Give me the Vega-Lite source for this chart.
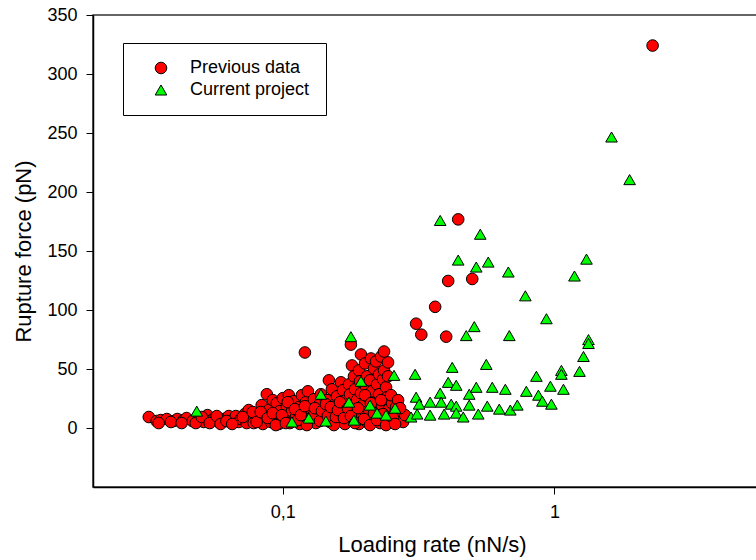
{
  "$schema": "https://vega.github.io/schema/vega-lite/v6.json",
  "width": 733,
  "height": 472,
  "autosize": {"type": "none"},
  "padding": {"left": 93, "top": 15, "right": 0, "bottom": 73},
  "background": "white",
  "config": {
    "view": {"stroke": "#333333", "strokeWidth": 1.5},
    "font": "Liberation Sans",
    "axis": {"grid": false, "domainColor": "black", "domainWidth": 1.5, "tickColor": "black", "tickSize": 7, "tickWidth": 1, "labelColor": "black", "titleColor": "black", "labelFont": "Liberation Sans", "titleFont": "Liberation Sans", "labelFontSize": 18, "titleFontSize": 22, "titleFontWeight": "normal"},
    "legend": {"symbolStrokeColor": "black", "symbolStrokeWidth": 1}
  },
  "data": {"values": [
    {"rate":0.0321,"force":9.3,"series":"Previous data"},{"rate":0.0343,"force":5.9,"series":"Previous data"},{"rate":0.0355,"force":6.7,"series":"Previous data"},{"rate":0.0374,"force":7.6,"series":"Previous data"},{"rate":0.0396,"force":5.9,"series":"Previous data"},{"rate":0.0409,"force":7.6,"series":"Previous data"},{"rate":0.0431,"force":6.7,"series":"Previous data"},{"rate":0.0442,"force":8.4,"series":"Previous data"},{"rate":0.0465,"force":5.9,"series":"Previous data"},{"rate":0.049,"force":7.6,"series":"Previous data"},{"rate":0.0511,"force":5.1,"series":"Previous data"},{"rate":0.0528,"force":10.9,"series":"Previous data"},{"rate":0.0547,"force":6.7,"series":"Previous data"},{"rate":0.056,"force":8.4,"series":"Previous data"},{"rate":0.0581,"force":5.1,"series":"Previous data"},{"rate":0.0606,"force":7.6,"series":"Previous data"},{"rate":0.0632,"force":10.1,"series":"Previous data"},{"rate":0.0643,"force":5.9,"series":"Previous data"},{"rate":0.0671,"force":10.1,"series":"Previous data"},{"rate":0.0688,"force":5.1,"series":"Previous data"},{"rate":0.07,"force":7.6,"series":"Previous data"},{"rate":0.0724,"force":11.8,"series":"Previous data"},{"rate":0.0736,"force":4.2,"series":"Previous data"},{"rate":0.0749,"force":15.2,"series":"Previous data"},{"rate":0.0762,"force":8.4,"series":"Previous data"},{"rate":0.0781,"force":4.2,"series":"Previous data"},{"rate":0.0794,"force":11.8,"series":"Previous data"},{"rate":0.0815,"force":6.7,"series":"Previous data"},{"rate":0.0836,"force":19.4,"series":"Previous data"},{"rate":0.0844,"force":3.4,"series":"Previous data"},{"rate":0.0858,"force":10.1,"series":"Previous data"},{"rate":0.0873,"force":28.6,"series":"Previous data"},{"rate":0.0888,"force":15.2,"series":"Previous data"},{"rate":0.0903,"force":5.1,"series":"Previous data"},{"rate":0.0918,"force":23.6,"series":"Previous data"},{"rate":0.0934,"force":9.3,"series":"Previous data"},{"rate":0.095,"force":21.0,"series":"Previous data"},{"rate":0.0966,"force":3.4,"series":"Previous data"},{"rate":0.0974,"force":14.3,"series":"Previous data"},{"rate":0.1,"force":25.3,"series":"Previous data"},{"rate":0.1008,"force":7.6,"series":"Previous data"},{"rate":0.1035,"force":18.5,"series":"Previous data"},{"rate":0.1052,"force":27.8,"series":"Previous data"},{"rate":0.1061,"force":4.2,"series":"Previous data"},{"rate":0.108,"force":14.3,"series":"Previous data"},{"rate":0.1098,"force":22.7,"series":"Previous data"},{"rate":0.1117,"force":9.3,"series":"Previous data"},{"rate":0.1146,"force":17.7,"series":"Previous data"},{"rate":0.1155,"force":3.4,"series":"Previous data"},{"rate":0.1175,"force":27.8,"series":"Previous data"},{"rate":0.1195,"force":13.5,"series":"Previous data"},{"rate":0.1216,"force":21.9,"series":"Previous data"},{"rate":0.1237,"force":31.1,"series":"Previous data"},{"rate":0.1247,"force":7.6,"series":"Previous data"},{"rate":0.1268,"force":16.0,"series":"Previous data"},{"rate":0.1301,"force":24.4,"series":"Previous data"},{"rate":0.1323,"force":4.2,"series":"Previous data"},{"rate":0.1335,"force":11.8,"series":"Previous data"},{"rate":0.1358,"force":19.4,"series":"Previous data"},{"rate":0.1381,"force":28.6,"series":"Previous data"},{"rate":0.1405,"force":8.4,"series":"Previous data"},{"rate":0.1429,"force":15.2,"series":"Previous data"},{"rate":0.1453,"force":23.6,"series":"Previous data"},{"rate":0.1478,"force":40.4,"series":"Previous data"},{"rate":0.149,"force":5.1,"series":"Previous data"},{"rate":0.1516,"force":32.8,"series":"Previous data"},{"rate":0.1529,"force":12.6,"series":"Previous data"},{"rate":0.1556,"force":20.2,"series":"Previous data"},{"rate":0.1583,"force":26.9,"series":"Previous data"},{"rate":0.1609,"force":8.4,"series":"Previous data"},{"rate":0.1637,"force":38.7,"series":"Previous data"},{"rate":0.1651,"force":16.8,"series":"Previous data"},{"rate":0.1665,"force":32.0,"series":"Previous data"},{"rate":0.1693,"force":3.4,"series":"Previous data"},{"rate":0.1708,"force":23.6,"series":"Previous data"},{"rate":0.1722,"force":11.8,"series":"Previous data"},{"rate":0.1752,"force":37.0,"series":"Previous data"},{"rate":0.1767,"force":28.6,"series":"Previous data"},{"rate":0.1781,"force":70.7,"series":"Previous data"},{"rate":0.1797,"force":53.0,"series":"Previous data"},{"rate":0.1797,"force":18.5,"series":"Previous data"},{"rate":0.1812,"force":7.6,"series":"Previous data"},{"rate":0.1828,"force":43.8,"series":"Previous data"},{"rate":0.1844,"force":32.8,"series":"Previous data"},{"rate":0.1859,"force":14.3,"series":"Previous data"},{"rate":0.1875,"force":23.6,"series":"Previous data"},{"rate":0.1907,"force":48.8,"series":"Previous data"},{"rate":0.1907,"force":3.4,"series":"Previous data"},{"rate":0.1924,"force":39.6,"series":"Previous data"},{"rate":0.194,"force":62.3,"series":"Previous data"},{"rate":0.194,"force":29.5,"series":"Previous data"},{"rate":0.1957,"force":10.1,"series":"Previous data"},{"rate":0.1973,"force":19.4,"series":"Previous data"},{"rate":0.2007,"force":54.7,"series":"Previous data"},{"rate":0.2024,"force":35.4,"series":"Previous data"},{"rate":0.2041,"force":43.8,"series":"Previous data"},{"rate":0.2041,"force":5.1,"series":"Previous data"},{"rate":0.2059,"force":26.1,"series":"Previous data"},{"rate":0.2076,"force":15.2,"series":"Previous data"},{"rate":0.2094,"force":40.4,"series":"Previous data"},{"rate":0.2112,"force":58.9,"series":"Previous data"},{"rate":0.213,"force":31.1,"series":"Previous data"},{"rate":0.2148,"force":9.3,"series":"Previous data"},{"rate":0.2166,"force":50.5,"series":"Previous data"},{"rate":0.2185,"force":21.9,"series":"Previous data"},{"rate":0.2204,"force":56.4,"series":"Previous data"},{"rate":0.2223,"force":37.0,"series":"Previous data"},{"rate":0.2242,"force":14.3,"series":"Previous data"},{"rate":0.2261,"force":45.5,"series":"Previous data"},{"rate":0.2261,"force":28.6,"series":"Previous data"},{"rate":0.228,"force":4.2,"series":"Previous data"},{"rate":0.23,"force":60.6,"series":"Previous data"},{"rate":0.2319,"force":18.5,"series":"Previous data"},{"rate":0.2339,"force":41.3,"series":"Previous data"},{"rate":0.2359,"force":64.8,"series":"Previous data"},{"rate":0.2359,"force":48.8,"series":"Previous data"},{"rate":0.2379,"force":10.1,"series":"Previous data"},{"rate":0.2399,"force":34.5,"series":"Previous data"},{"rate":0.242,"force":26.1,"series":"Previous data"},{"rate":0.244,"force":55.6,"series":"Previous data"},{"rate":0.2461,"force":16.0,"series":"Previous data"},{"rate":0.2482,"force":5.9,"series":"Previous data"},{"rate":0.2525,"force":21.0,"series":"Previous data"},{"rate":0.2568,"force":11.8,"series":"Previous data"},{"rate":0.2613,"force":17.7,"series":"Previous data"},{"rate":0.2635,"force":7.6,"series":"Previous data"},{"rate":0.2679,"force":13.5,"series":"Previous data"},{"rate":0.2725,"force":9.3,"series":"Previous data"},{"rate":0.2772,"force":5.1,"series":"Previous data"},{"rate":0.282,"force":10.9,"series":"Previous data"},
    {"rate":0.0349,"force":4.2,"series":"Previous data"},{"rate":0.0387,"force":5.1,"series":"Previous data"},{"rate":0.0424,"force":4.2,"series":"Previous data"},{"rate":0.0478,"force":4.2,"series":"Previous data"},{"rate":0.0503,"force":9.3,"series":"Previous data"},{"rate":0.0538,"force":4.2,"series":"Previous data"},{"rate":0.0571,"force":10.1,"series":"Previous data"},{"rate":0.059,"force":3.4,"series":"Previous data"},{"rate":0.062,"force":5.9,"series":"Previous data"},{"rate":0.0651,"force":3.4,"series":"Previous data"},{"rate":0.0712,"force":9.3,"series":"Previous data"},{"rate":0.0775,"force":13.5,"series":"Previous data"},{"rate":0.0801,"force":5.1,"series":"Previous data"},{"rate":0.0829,"force":13.5,"series":"Previous data"},{"rate":0.088,"force":8.4,"series":"Previous data"},{"rate":0.0918,"force":12.6,"series":"Previous data"},{"rate":0.0942,"force":2.5,"series":"Previous data"},{"rate":0.0992,"force":10.9,"series":"Previous data"},{"rate":0.1026,"force":4.2,"series":"Previous data"},{"rate":0.1043,"force":21.9,"series":"Previous data"},{"rate":0.1108,"force":16.0,"series":"Previous data"},{"rate":0.1136,"force":6.7,"series":"Previous data"},{"rate":0.1165,"force":10.9,"series":"Previous data"},{"rate":0.1206,"force":18.5,"series":"Previous data"},{"rate":0.1226,"force":2.5,"series":"Previous data"},{"rate":0.1279,"force":9.3,"series":"Previous data"},{"rate":0.1312,"force":16.8,"series":"Previous data"},{"rate":0.137,"force":5.9,"series":"Previous data"},{"rate":0.1393,"force":14.3,"series":"Previous data"},{"rate":0.1441,"force":20.2,"series":"Previous data"},{"rate":0.1465,"force":10.1,"series":"Previous data"},{"rate":0.1503,"force":17.7,"series":"Previous data"},{"rate":0.1542,"force":2.5,"series":"Previous data"},{"rate":0.1569,"force":9.3,"series":"Previous data"},{"rate":0.1596,"force":15.2,"series":"Previous data"},{"rate":0.1623,"force":21.9,"series":"Previous data"},{"rate":0.1679,"force":8.4,"series":"Previous data"},{"rate":0.1737,"force":16.8,"series":"Previous data"},{"rate":0.1781,"force":10.1,"series":"Previous data"},{"rate":0.1844,"force":4.2,"series":"Previous data"},{"rate":0.1891,"force":16.8,"series":"Previous data"},{"rate":0.199,"force":7.6,"series":"Previous data"},{"rate":0.2007,"force":27.8,"series":"Previous data"},{"rate":0.2094,"force":2.5,"series":"Previous data"},{"rate":0.2112,"force":21.0,"series":"Previous data"},{"rate":0.2166,"force":12.6,"series":"Previous data"},{"rate":0.2223,"force":6.7,"series":"Previous data"},{"rate":0.23,"force":23.6,"series":"Previous data"},{"rate":0.2339,"force":11.8,"series":"Previous data"},{"rate":0.2399,"force":2.5,"series":"Previous data"},{"rate":0.244,"force":43.8,"series":"Previous data"},{"rate":0.2503,"force":27.8,"series":"Previous data"},{"rate":0.2546,"force":8.4,"series":"Previous data"},{"rate":0.259,"force":3.4,"series":"Previous data"},{"rate":0.2657,"force":23.6,"series":"Previous data"},{"rate":0.2702,"force":16.8,"series":"Previous data"},
    {"rate":2.299,"force":324.1,"series":"Previous data"},{"rate":0.4423,"force":176.8,"series":"Previous data"},{"rate":0.4063,"force":124.6,"series":"Previous data"},{"rate":0.4983,"force":126.3,"series":"Previous data"},{"rate":0.3638,"force":102.7,"series":"Previous data"},{"rate":0.3096,"force":88.4,"series":"Previous data"},{"rate":0.3235,"force":79.1,"series":"Previous data"},{"rate":0.3995,"force":77.4,"series":"Previous data"},{"rate":0.1206,"force":64.0,"series":"Previous data"},
    {"rate":0.0482,"force":14.3,"series":"Current project"},{"rate":0.108,"force":5.1,"series":"Current project"},{"rate":0.1247,"force":8.4,"series":"Current project"},{"rate":0.1441,"force":5.9,"series":"Current project"},{"rate":0.1381,"force":28.6,"series":"Current project"},{"rate":0.1752,"force":21.9,"series":"Current project"},{"rate":0.1828,"force":6.7,"series":"Current project"},{"rate":0.194,"force":39.6,"series":"Current project"},{"rate":0.2094,"force":19.4,"series":"Current project"},{"rate":0.2223,"force":12.6,"series":"Current project"},{"rate":0.2399,"force":10.9,"series":"Current project"},{"rate":0.259,"force":16.8,"series":"Current project"},{"rate":0.2567,"force":44.6,"series":"Current project"},{"rate":0.1781,"force":77.4,"series":"Current project"},{"rate":0.2967,"force":9.3,"series":"Current project"},{"rate":0.3069,"force":45.5,"series":"Current project"},{"rate":0.3096,"force":26.1,"series":"Current project"},{"rate":0.3176,"force":20.2,"series":"Current project"},{"rate":0.3122,"force":11.8,"series":"Current project"},{"rate":0.3486,"force":21.9,"series":"Current project"},{"rate":0.3486,"force":10.9,"series":"Current project"},{"rate":0.3797,"force":29.5,"series":"Current project"},{"rate":0.3828,"force":21.9,"series":"Current project"},{"rate":0.3927,"force":11.8,"series":"Current project"},{"rate":0.4063,"force":38.7,"series":"Current project"},{"rate":0.4168,"force":20.2,"series":"Current project"},{"rate":0.435,"force":36.2,"series":"Current project"},{"rate":0.435,"force":18.5,"series":"Current project"},{"rate":0.435,"force":12.6,"series":"Current project"},{"rate":0.4616,"force":9.3,"series":"Current project"},{"rate":0.4857,"force":28.6,"series":"Current project"},{"rate":0.4857,"force":19.4,"series":"Current project"},{"rate":0.5243,"force":11.8,"series":"Current project"},{"rate":0.5155,"force":34.5,"series":"Current project"},{"rate":0.5659,"force":18.5,"series":"Current project"},{"rate":0.5904,"force":34.5,"series":"Current project"},{"rate":0.6266,"force":16.0,"series":"Current project"},{"rate":0.6596,"force":32.8,"series":"Current project"},{"rate":0.6881,"force":15.2,"series":"Current project"},{"rate":0.7302,"force":19.4,"series":"Current project"},{"rate":0.4204,"force":51.4,"series":"Current project"},{"rate":0.5612,"force":53.9,"series":"Current project"},{"rate":0.4735,"force":78.3,"series":"Current project"},{"rate":0.5069,"force":85.9,"series":"Current project"},{"rate":0.6823,"force":78.3,"series":"Current project"},{"rate":0.3797,"force":175.9,"series":"Current project"},{"rate":0.5333,"force":164.2,"series":"Current project"},{"rate":0.4423,"force":142.3,"series":"Current project"},{"rate":0.5155,"force":136.4,"series":"Current project"},{"rate":0.5707,"force":140.6,"series":"Current project"},{"rate":0.6766,"force":132.2,"series":"Current project"},{"rate":0.7816,"force":112.0,"series":"Current project"},{"rate":0.9344,"force":92.6,"series":"Current project"},{"rate":1.3126,"force":143.1,"series":"Current project"},{"rate":1.1853,"force":128.8,"series":"Current project"},{"rate":1.623,"force":246.6,"series":"Current project"},{"rate":1.892,"force":210.5,"series":"Current project"},{"rate":1.335,"force":74.9,"series":"Current project"},{"rate":1.335,"force":71.6,"series":"Current project"},{"rate":1.2794,"force":60.6,"series":"Current project"},{"rate":1.237,"force":48.0,"series":"Current project"},{"rate":1.061,"force":48.8,"series":"Current project"},{"rate":1.061,"force":45.5,"series":"Current project"},{"rate":0.8582,"force":43.8,"series":"Current project"},{"rate":0.9665,"force":35.4,"series":"Current project"},{"rate":1.0795,"force":32.8,"series":"Current project"},{"rate":0.7883,"force":31.1,"series":"Current project"},{"rate":0.873,"force":27.8,"series":"Current project"},{"rate":0.9031,"force":22.7,"series":"Current project"},{"rate":0.9748,"force":20.2,"series":"Current project"}
  ]},
  "mark": {"type": "point", "filled": true, "opacity": 1, "strokeWidth": 1, "size": 135},
  "encoding": {
    "x": {"field": "rate", "type": "quantitative", "scale": {"type": "log", "domain": [0.02, 10], "nice": false},
      "axis": {"title": "Loading rate (nN/s)", "values": [0.1, 1], "labelExpr": "replace(datum.label, '.', ',')", "labelPadding": 9, "titlePadding": 13, "titleX": 339}},
    "y": {"field": "force", "type": "quantitative", "scale": {"domain": [-50, 350], "nice": false, "zero": false},
      "axis": {"title": "Rupture force (pN)", "values": [0, 50, 100, 150, 200, 250, 300, 350], "labelPadding": 9, "titlePadding": 11}},
    "fill": {"field": "series", "type": "nominal", "sort": null, "scale": {"domain": ["Previous data", "Current project"], "range": ["#ff0000", "#00ff00"]},
      "legend": {"title": null, "orient": "none", "legendX": 30, "legendY": 28, "strokeColor": "black", "fillColor": "white", "padding": 16, "symbolOffset": 13, "labelFontSize": 18, "labelFont": "Liberation Sans", "labelColor": "black", "labelOffset": 20, "rowPadding": 4, "symbolSize": 135}},
    "shape": {"field": "series", "type": "nominal", "sort": null, "scale": {"domain": ["Previous data", "Current project"], "range": ["circle", "triangle-up"]},
      "legend": {"title": null, "orient": "none", "legendX": 30, "legendY": 28, "strokeColor": "black", "fillColor": "white", "padding": 16, "symbolOffset": 13, "labelFontSize": 18, "labelFont": "Liberation Sans", "labelColor": "black", "labelOffset": 20, "rowPadding": 4, "symbolSize": 135}},
    "stroke": {"field": "series", "type": "nominal", "sort": null, "scale": {"domain": ["Previous data", "Current project"], "range": ["black", "black"]},
      "legend": {"title": null, "orient": "none", "legendX": 30, "legendY": 28, "strokeColor": "black", "fillColor": "white", "padding": 16, "symbolOffset": 13, "labelFontSize": 18, "labelFont": "Liberation Sans", "labelColor": "black", "labelOffset": 20, "rowPadding": 4, "symbolSize": 135}}
  }
}
